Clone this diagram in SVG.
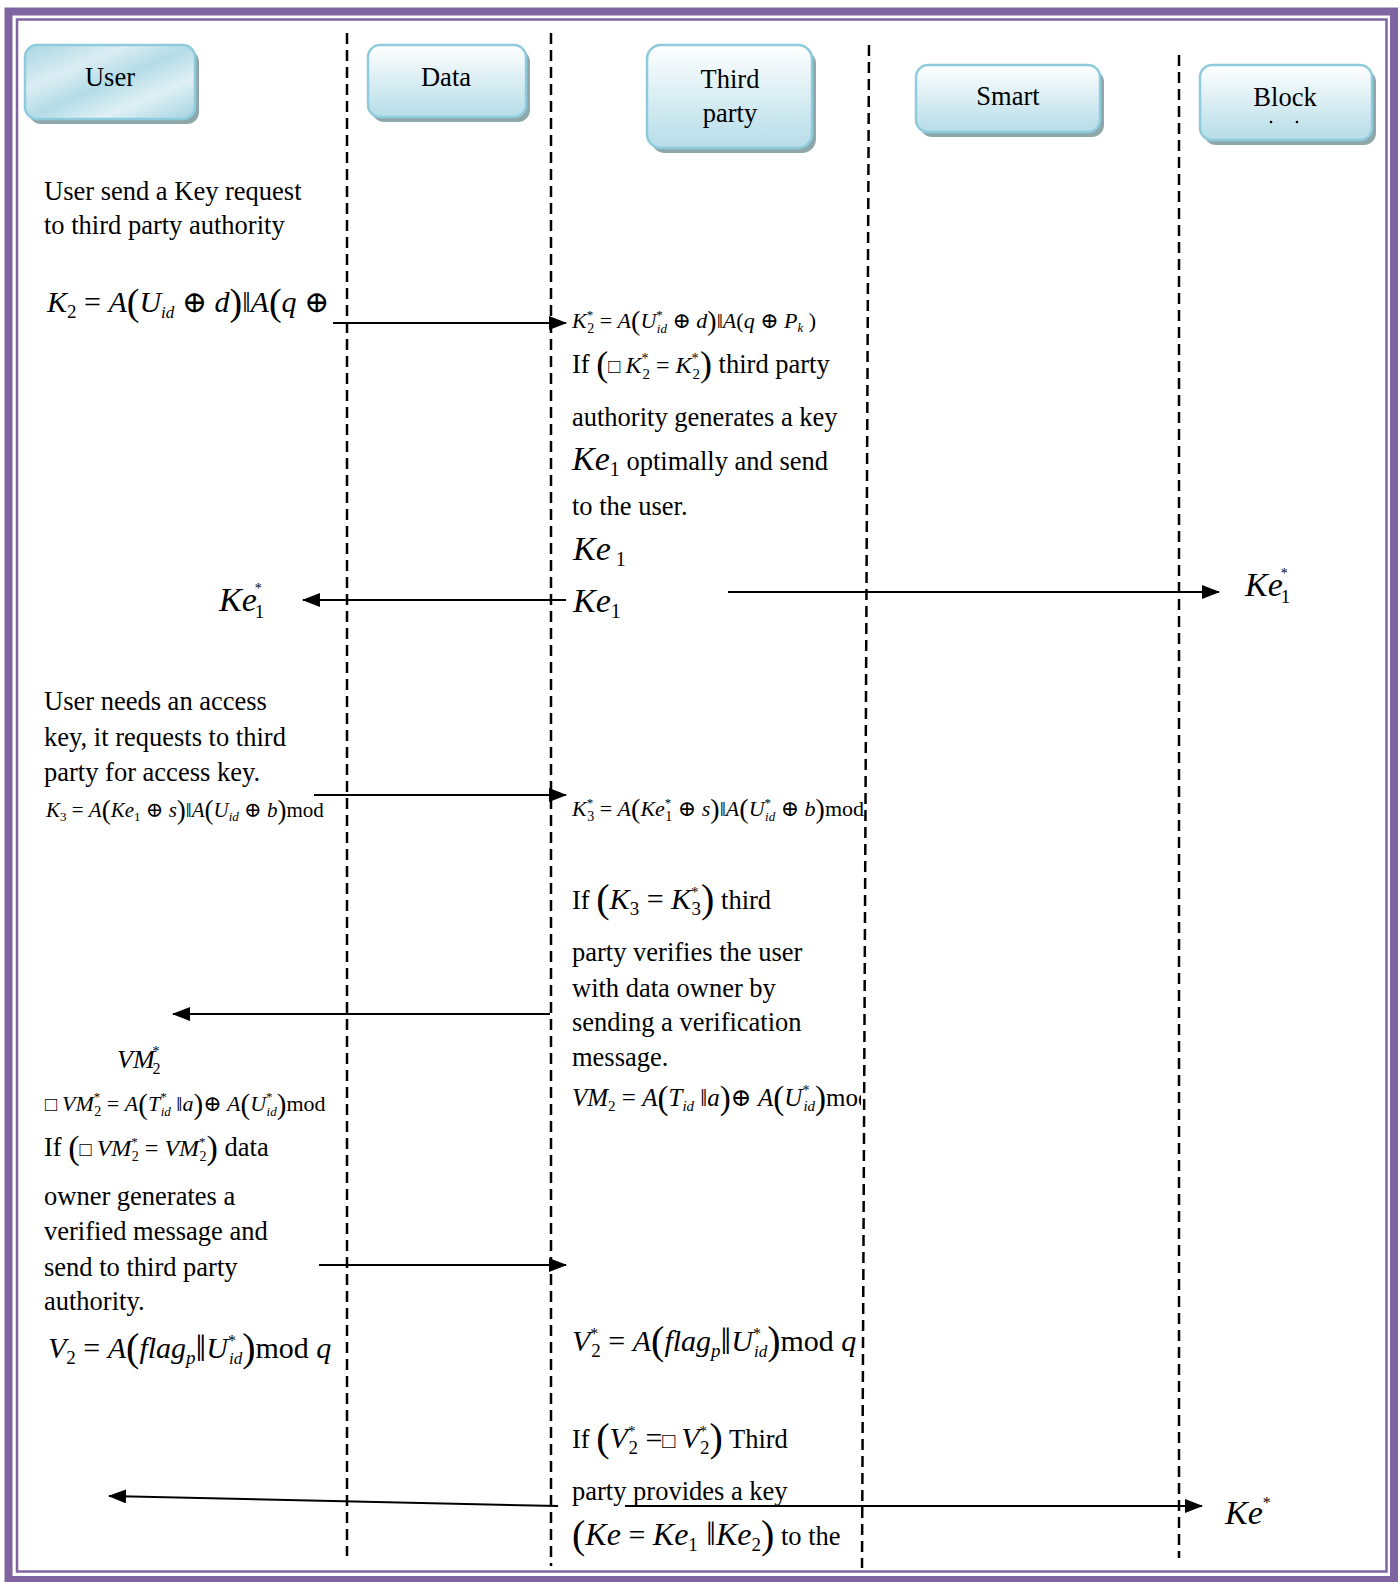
<svg xmlns="http://www.w3.org/2000/svg" width="1400" height="1582" viewBox="0 0 1400 1582">
  <defs>
    <style>
      .s { font-family: "Liberation Serif", "Times New Roman", "DejaVu Serif", serif; fill: #000; }
      .i { font-style: italic; }
      .lbl { font-size: 26.5px; text-anchor: middle; }
      .life { fill: none; stroke: #000; stroke-width: 2.5; stroke-dasharray: 11 6; }
      .msg { fill: none; stroke: #000; stroke-width: 2; marker-end: url(#ah); }
      .box { stroke: #8ecbdc; stroke-width: 2.5; }
      .shadow { fill: #8fa7ab; }
    </style>
    <linearGradient id="gUser" x1="0" y1="0" x2="1" y2="1">
      <stop offset="0" stop-color="#a6d6e3"/>
      <stop offset="0.3" stop-color="#dcedf3"/>
      <stop offset="0.5" stop-color="#b3dce7"/>
      <stop offset="0.72" stop-color="#e0f0f5"/>
      <stop offset="1" stop-color="#a2d3e1"/>
    </linearGradient>
    <linearGradient id="gBox" x1="0" y1="0" x2="0" y2="1">
      <stop offset="0" stop-color="#ffffff"/>
      <stop offset="0.55" stop-color="#d6ecf2"/>
      <stop offset="1" stop-color="#b5dde8"/>
    </linearGradient>
    <marker id="ah" markerUnits="userSpaceOnUse" markerWidth="18" markerHeight="14" refX="17" refY="7" orient="auto">
      <path d="M0,0 L18,7 L0,14 z" fill="#000"/>
    </marker>
    <clipPath id="colL"><rect x="0" y="0" width="336" height="1582"/></clipPath>
    <clipPath id="colT"><rect x="560" y="0" width="301" height="1582"/></clipPath>
  </defs>

  <rect width="1400" height="1582" fill="#fff"/>

  <!-- double frame -->
  <rect x="8.5" y="11.5" width="1385.5" height="1568.5" fill="none" stroke="#8064a2" stroke-width="8"/>
  <rect x="17" y="19.5" width="1369.5" height="1552" fill="none" stroke="#8064a2" stroke-width="2.5"/>

  <!-- lifelines -->
  <g id="lifelines">
    <line class="life" x1="347" y1="33" x2="347" y2="1556"/>
    <line class="life" x1="551" y1="33" x2="551" y2="1566"/>
    <line class="life" x1="869" y1="45" x2="862" y2="1568"/>
    <line class="life" x1="1179" y1="55" x2="1179" y2="1558"/>
  </g>

  <!-- participant headers -->
  <g id="user" class="s">
    <rect class="shadow" x="29" y="50" width="170" height="74" rx="12"/>
    <rect class="box" x="25" y="45" width="170" height="74" rx="12" fill="url(#gUser)"/>
    <text class="lbl" x="110" y="86">User</text>
  </g>
  <g id="data" class="s">
    <rect class="shadow" x="372" y="50" width="158" height="72" rx="12"/>
    <rect class="box" x="368" y="45" width="158" height="72" rx="12" fill="url(#gBox)"/>
    <text class="lbl" x="446" y="86">Data</text>
  </g>
  <g id="third-party" class="s">
    <rect class="shadow" x="651" y="50" width="165" height="103" rx="14"/>
    <rect class="box" x="647" y="45" width="165" height="103" rx="14" fill="url(#gBox)"/>
    <text class="lbl" x="730" y="88">Third</text>
    <text class="lbl" x="730" y="122">party</text>
  </g>
  <g id="smart" class="s">
    <rect class="shadow" x="920" y="70" width="184" height="67" rx="12"/>
    <rect class="box" x="916" y="65" width="184" height="67" rx="12" fill="url(#gBox)"/>
    <text class="lbl" x="1008" y="105">Smart</text>
  </g>
  <g id="block" class="s">
    <rect class="shadow" x="1204" y="70" width="172" height="75" rx="12"/>
    <rect class="box" x="1200" y="65" width="172" height="75" rx="12" fill="url(#gBox)"/>
    <text class="lbl" x="1285" y="106">Block</text>
    <circle cx="1271" cy="122" r="1.3" fill="#000"/>
    <circle cx="1297" cy="122" r="1.3" fill="#000"/>
  </g>

  <!-- messages -->
  <g id="connectors">
    <line class="msg" x1="333" y1="323" x2="566" y2="323"/>
    <line class="msg" x1="566" y1="600" x2="303" y2="600"/>
    <line class="msg" x1="728" y1="592" x2="1219" y2="592"/>
    <line class="msg" x1="314" y1="795" x2="566" y2="795"/>
    <line class="msg" x1="550" y1="1014" x2="173" y2="1014"/>
    <line class="msg" x1="319" y1="1265" x2="566" y2="1265"/>
    <line class="msg" x1="558" y1="1506" x2="109" y2="1496"/>
    <line class="msg" x1="625" y1="1506" x2="1202" y2="1506"/>
  </g>

  <!-- user column -->
  <g id="user-notes" class="s" font-size="26.5">
    <text x="44" y="200">User send a Key request</text>
    <text x="44" y="234">to third party authority</text>
    <text x="47" y="312" font-size="30"><tspan class="i">K</tspan><tspan font-size="19" dy="6">2</tspan><tspan dy="-6"> = </tspan><tspan class="i">A</tspan><tspan font-size="38" dy="3">(</tspan><tspan class="i" dy="-3">U</tspan><tspan class="i" font-size="17" dy="6">id</tspan><tspan dy="-6"> ⊕ </tspan><tspan class="i">d</tspan><tspan font-size="38" dy="3">)</tspan><tspan dy="-3">‖</tspan><tspan class="i">A</tspan><tspan font-size="38" dy="3">(</tspan><tspan class="i" dy="-3">q</tspan><tspan> ⊕</tspan></text>
    <text x="219" y="611" font-size="34"><tspan class="i">Ke</tspan><tspan font-size="14" dy="-18" dx="-2">*</tspan><tspan font-size="19" dx="-7" dy="25">1</tspan></text>
    <text x="44" y="710">User needs an access</text>
    <text x="44" y="746">key, it requests to third</text>
    <text x="44" y="781">party for access key.</text>
    <text x="46" y="817" font-size="21" clip-path="url(#colL)"><tspan class="i">K</tspan><tspan font-size="13" dy="4">3</tspan><tspan dy="-4"> = </tspan><tspan class="i">A</tspan><tspan font-size="27" dy="2">(</tspan><tspan class="i" dy="-2">Ke</tspan><tspan font-size="13" dy="4">1</tspan><tspan dy="-4"> ⊕ </tspan><tspan class="i">s</tspan><tspan font-size="27" dy="2">)</tspan><tspan dy="-2">‖</tspan><tspan class="i">A</tspan><tspan font-size="27" dy="2">(</tspan><tspan class="i" dy="-2">U</tspan><tspan class="i" font-size="13" dy="4">id</tspan><tspan dy="-4"> ⊕ </tspan><tspan class="i">b</tspan><tspan font-size="27" dy="2">)</tspan><tspan dy="-2">mod</tspan></text>
    <text x="117" y="1068" font-size="26"><tspan class="i">VM</tspan><tspan font-size="14" dy="-12" dx="-2">*</tspan><tspan font-size="16" dx="-7" dy="18">2</tspan></text>
    <text x="45" y="1111" font-size="22" clip-path="url(#colL)"><tspan font-size="20">□ </tspan><tspan class="i">VM</tspan><tspan font-size="13" dy="-10">*</tspan><tspan font-size="14" dx="-6" dy="15">2</tspan><tspan dy="-5"> = </tspan><tspan class="i">A</tspan><tspan font-size="29" dy="3">(</tspan><tspan class="i" dy="-3">T</tspan><tspan font-size="13" dy="-10">*</tspan><tspan class="i" font-size="13" dx="-6" dy="15">id</tspan><tspan dy="-5"> ‖</tspan><tspan class="i">a</tspan><tspan font-size="29" dy="3">)</tspan><tspan dy="-3">⊕ </tspan><tspan class="i">A</tspan><tspan font-size="29" dy="3">(</tspan><tspan class="i" dy="-3">U</tspan><tspan font-size="13" dy="-10">*</tspan><tspan class="i" font-size="13" dx="-6" dy="15">id</tspan><tspan font-size="29" dy="-2">)</tspan><tspan dy="-3">mod</tspan></text>
    <text x="44" y="1156">If <tspan font-size="34" dy="3">(</tspan><tspan font-size="20" dy="-3">□ </tspan><tspan class="i" font-size="24">VM</tspan><tspan font-size="13" dy="-10">*</tspan><tspan font-size="14" dx="-6" dy="15">2</tspan><tspan font-size="24" dy="-5"> = </tspan><tspan class="i" font-size="24">VM</tspan><tspan font-size="13" dy="-10">*</tspan><tspan font-size="14" dx="-6" dy="15">2</tspan><tspan font-size="34" dy="-2">)</tspan><tspan dy="-3"> data</tspan></text>
    <text x="44" y="1205">owner generates a</text>
    <text x="44" y="1240">verified message and</text>
    <text x="44" y="1276">send to third party</text>
    <text x="44" y="1310">authority.</text>
    <text x="48" y="1358" font-size="30"><tspan class="i">V</tspan><tspan font-size="19" dy="6">2</tspan><tspan dy="-6"> = </tspan><tspan class="i">A</tspan><tspan font-size="40" dy="3">(</tspan><tspan class="i" dy="-3">flag</tspan><tspan class="i" font-size="19" dy="6">p</tspan><tspan font-size="38" dy="-3">‖</tspan><tspan class="i" dy="-3">U</tspan><tspan font-size="16" dy="-12">*</tspan><tspan class="i" font-size="17" dx="-7" dy="18">id</tspan><tspan font-size="40" dy="-3">)</tspan><tspan dy="-3">mod </tspan><tspan class="i">q</tspan></text>
  </g>

  <!-- third party column -->
  <g id="third-party-notes" class="s" font-size="26.5">
    <text x="572" y="328" font-size="22"><tspan class="i">K</tspan><tspan font-size="13" dy="-9">*</tspan><tspan font-size="14" dx="-6" dy="14">2</tspan><tspan dy="-5"> = </tspan><tspan class="i">A</tspan><tspan font-size="28" dy="2">(</tspan><tspan class="i" dy="-2">U</tspan><tspan font-size="13" dy="-9">*</tspan><tspan class="i" font-size="13" dx="-6" dy="14">id</tspan><tspan dy="-5"> ⊕ </tspan><tspan class="i">d</tspan><tspan font-size="28" dy="2">)</tspan><tspan dy="-2">‖</tspan><tspan class="i">A</tspan>(<tspan class="i">q</tspan> ⊕ <tspan class="i">P</tspan><tspan class="i" font-size="13" dy="4">k</tspan><tspan dy="-4"> )</tspan></text>
    <text x="572" y="373">If <tspan font-size="36" dy="3">(</tspan><tspan font-size="20" dy="-3">□ </tspan><tspan class="i" font-size="24">K</tspan><tspan font-size="14" dy="-10">*</tspan><tspan font-size="15" dx="-6" dy="16">2</tspan><tspan font-size="24" dy="-6"> = </tspan><tspan class="i" font-size="24">K</tspan><tspan font-size="14" dy="-10">*</tspan><tspan font-size="15" dx="-6" dy="16">2</tspan><tspan font-size="36" dy="-3">)</tspan><tspan dy="-3"> third party</tspan></text>
    <text x="572" y="426">authority generates a key</text>
    <text x="572" y="470"><tspan class="i" font-size="34">Ke</tspan><tspan font-size="20" dy="6">1</tspan><tspan dy="-6"> optimally and send</tspan></text>
    <text x="572" y="515">to the user.</text>
    <text x="573" y="560" font-size="34"><tspan class="i">Ke</tspan><tspan font-size="20" dy="6"> 1</tspan></text>
    <text x="573" y="612" font-size="34"><tspan class="i">Ke</tspan><tspan font-size="20" dy="6">1</tspan></text>
    <text x="572" y="816" font-size="22"><tspan class="i">K</tspan><tspan font-size="13" dy="-9">*</tspan><tspan font-size="14" dx="-6" dy="14">3</tspan><tspan dy="-5"> = </tspan><tspan class="i">A</tspan><tspan font-size="28" dy="2">(</tspan><tspan class="i" dy="-2">Ke</tspan><tspan font-size="13" dy="-9">*</tspan><tspan font-size="14" dx="-6" dy="14">1</tspan><tspan dy="-5"> ⊕ </tspan><tspan class="i">s</tspan><tspan font-size="28" dy="2">)</tspan><tspan dy="-2">‖</tspan><tspan class="i">A</tspan><tspan font-size="28" dy="2">(</tspan><tspan class="i" dy="-2">U</tspan><tspan font-size="13" dy="-9">*</tspan><tspan class="i" font-size="13" dx="-6" dy="14">id</tspan><tspan dy="-5"> ⊕ </tspan><tspan class="i">b</tspan><tspan font-size="28" dy="2">)</tspan><tspan dy="-2">mod</tspan></text>
    <text x="572" y="909">If <tspan font-size="40" dy="3">(</tspan><tspan class="i" font-size="30" dy="-3">K</tspan><tspan font-size="19" dy="6">3</tspan><tspan font-size="30" dy="-6"> = </tspan><tspan class="i" font-size="30">K</tspan><tspan font-size="15" dy="-12">*</tspan><tspan font-size="19" dx="-7" dy="18">3</tspan><tspan font-size="40" dy="-3">)</tspan><tspan dy="-3"> third</tspan></text>
    <text x="572" y="961">party verifies the user</text>
    <text x="572" y="997">with data owner by</text>
    <text x="572" y="1031">sending a verification</text>
    <text x="572" y="1066">message.</text>
    <text x="572" y="1106" font-size="25" clip-path="url(#colT)"><tspan class="i">VM</tspan><tspan font-size="15" dy="5">2</tspan><tspan dy="-5"> = </tspan><tspan class="i">A</tspan><tspan font-size="33" dy="3">(</tspan><tspan class="i" dy="-3">T</tspan><tspan class="i" font-size="15" dy="5">id</tspan><tspan dy="-5"> ‖</tspan><tspan class="i">a</tspan><tspan font-size="33" dy="3">)</tspan><tspan dy="-3">⊕ </tspan><tspan class="i">A</tspan><tspan font-size="33" dy="3">(</tspan><tspan class="i" dy="-3">U</tspan><tspan font-size="14" dy="-11">*</tspan><tspan class="i" font-size="15" dx="-6" dy="16">id</tspan><tspan font-size="33" dy="-2">)</tspan><tspan dy="-3">mod</tspan></text>
    <text x="572" y="1351" font-size="30" clip-path="url(#colT)"><tspan class="i">V</tspan><tspan font-size="16" dy="-12">*</tspan><tspan font-size="19" dx="-7" dy="18">2</tspan><tspan dy="-6"> = </tspan><tspan class="i">A</tspan><tspan font-size="40" dy="3">(</tspan><tspan class="i" dy="-3">flag</tspan><tspan class="i" font-size="19" dy="6">p</tspan><tspan font-size="38" dy="-3">‖</tspan><tspan class="i" dy="-3">U</tspan><tspan font-size="16" dy="-12">*</tspan><tspan class="i" font-size="17" dx="-7" dy="18">id</tspan><tspan font-size="40" dy="-3">)</tspan><tspan dy="-3">mod </tspan><tspan class="i">q</tspan></text>
    <text x="572" y="1448">If <tspan font-size="40" dy="3">(</tspan><tspan class="i" font-size="30" dy="-3">V</tspan><tspan font-size="15" dy="-12">*</tspan><tspan font-size="19" dx="-7" dy="18">2</tspan><tspan font-size="30" dy="-6"> =</tspan><tspan font-size="22">□ </tspan><tspan class="i" font-size="30">V</tspan><tspan font-size="15" dy="-12">*</tspan><tspan font-size="19" dx="-7" dy="18">2</tspan><tspan font-size="40" dy="-3">)</tspan><tspan dy="-3"> Third</tspan></text>
    <text x="572" y="1500">party provides a key</text>
    <text x="572" y="1545"><tspan font-size="40" dy="3">(</tspan><tspan class="i" font-size="32" dy="-3">Ke</tspan><tspan font-size="30"> = </tspan><tspan class="i" font-size="32">Ke</tspan><tspan font-size="19" dy="6">1</tspan><tspan font-size="34" dy="-6"> ‖</tspan><tspan class="i" font-size="32">Ke</tspan><tspan font-size="19" dy="6">2</tspan><tspan font-size="40" dy="-3">)</tspan><tspan dy="-3"> to the</tspan></text>
  </g>

  <!-- blockchain column -->
  <g id="block-notes" class="s">
    <text x="1245" y="596" font-size="34"><tspan class="i">Ke</tspan><tspan font-size="14" dy="-18" dx="-2">*</tspan><tspan font-size="19" dx="-7" dy="25">1</tspan></text>
    <text x="1225" y="1524" font-size="34"><tspan class="i">Ke</tspan><tspan font-size="16" dy="-16">*</tspan></text>
  </g>
</svg>
